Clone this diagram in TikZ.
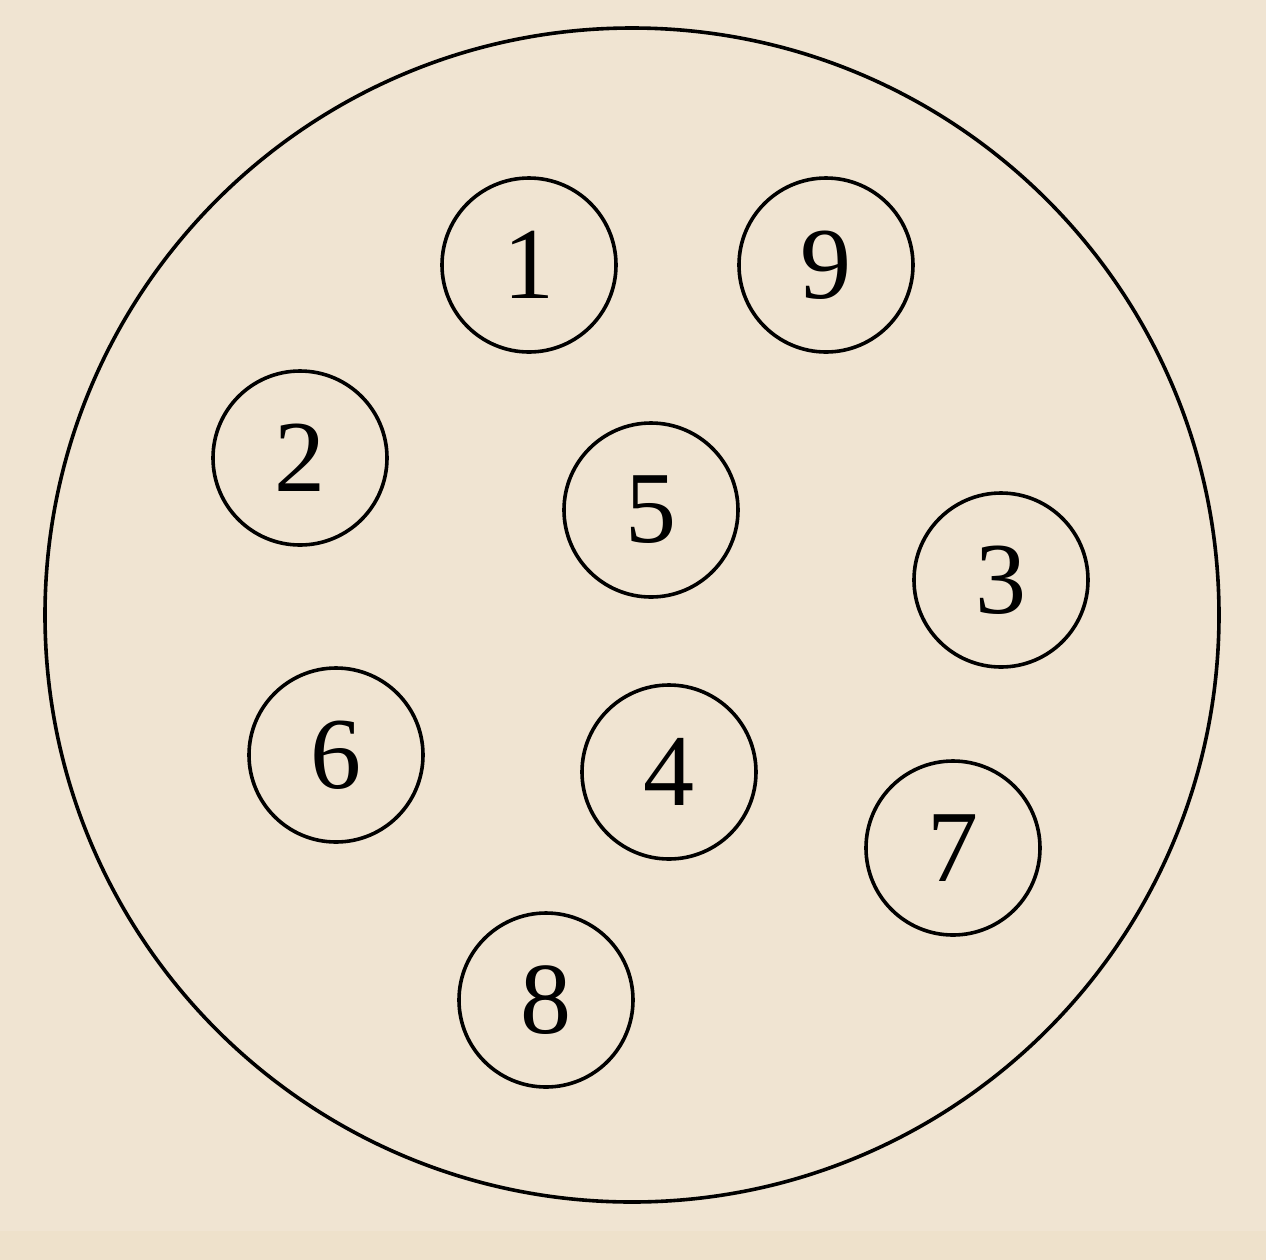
\documentclass[tikz,border=0pt]{standalone}
\usepackage{fontspec}
\setmainfont{Liberation Serif}
\definecolor{papel}{HTML}{F0E4D2}
\definecolor{papelbaixo}{HTML}{EEE1CB}
\tikzset{
    furo/.style={circle, draw=black, line width=1.8pt, minimum size=87pt, inner sep=0pt,
        font=\fontsize{51}{51}\selectfont}
}
\begin{document}
\begin{tikzpicture}[x=0.5pt, y=-0.5pt]
        \fill[papel] (0,0) rectangle (1266,1260);
        \fill[papelbaixo] (0,1231) rectangle (1266,1260);
        \useasboundingbox (0,0) rectangle (1266,1260);

        % disco grande
        \node[circle, draw=black, line width=1.8pt, minimum size=587pt, inner sep=0pt] (disco) at (632,615) {};

        %furos numerados
        \node[furo] (f1) at (529,265) {1};
        \node[furo] (f9) at (826,265) {9};
        \node[furo] (f2) at (300,458) {2};
        \node[furo] (f5) at (651,510) {5};
        \node[furo] (f3) at (1001,580) {3};
        \node[furo] (f6) at (336,755) {6};
        \node[furo] (f4) at (669,772) {4};
        \node[furo] (f7) at (953,848) {7};
        \node[furo] (f8) at (546,1000) {8};

    \end{tikzpicture}
\end{document}
